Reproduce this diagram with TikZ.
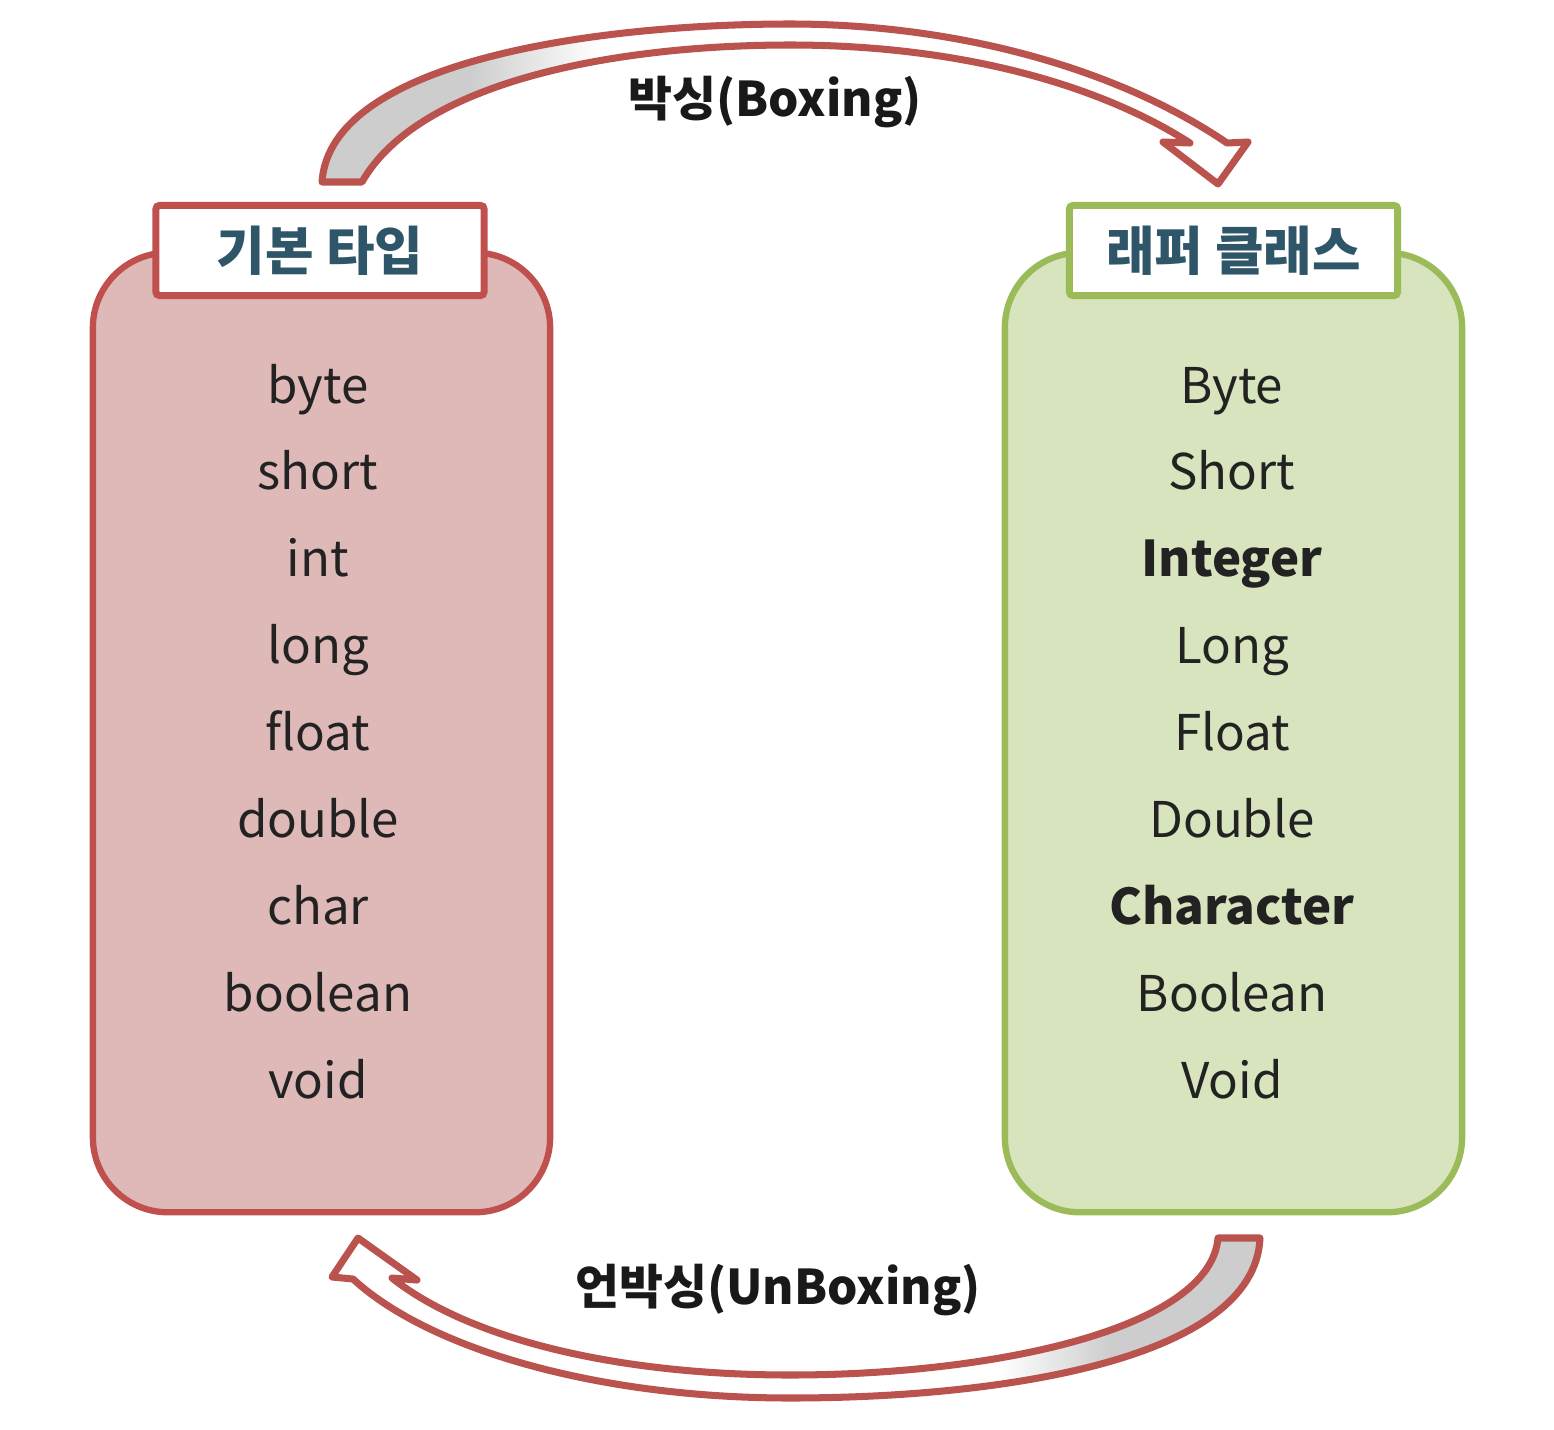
\documentclass[tikz,border=0pt]{standalone}
\usepackage{fontspec}
\setmainfont{Noto Sans CJK KR}
\definecolor{redline}{HTML}{C0504D}
\definecolor{redfill}{HTML}{DFB9B8}
\definecolor{greenline}{HTML}{9BBB59}
\definecolor{greenfill}{HTML}{D7E4BD}
\definecolor{titletext}{HTML}{2E5668}
\definecolor{arrowline}{HTML}{BA534E}
\definecolor{tailgray}{HTML}{CDCDCD}
\definecolor{itemtext}{HTML}{222222}
\tikzset{
  panel/.style={line width=1.8pt, rounded corners=0.75cm, minimum width=4.57cm, minimum height=9.59cm},
  titlebox/.style={fill=white, line width=2pt, rounded corners=1pt, minimum width=3.28cm, minimum height=0.90cm,
    text=titletext, font=\fontsize{15}{18}\selectfont\bfseries, inner sep=0pt},
  item/.style={anchor=base, text=itemtext, font=\fontsize{14}{17}\selectfont, inner sep=0pt},
  bolditem/.style={item, font=\fontsize{14}{17}\selectfont\bfseries},
  arrowlabel/.style={font=\fontsize{13.6}{16}\selectfont\bfseries, text=black!90},
  blockarrow/.style={draw=arrowline, line width=2pt, line join=round}
}
\begin{document}
\begin{tikzpicture}[x=0.01cm,y=-0.01cm]
\useasboundingbox (0,0) rectangle (1554,1430);

% panels
\node[panel, draw=redline, fill=redfill] (prim) at (321.5,732.5) {};
\node[panel, draw=greenline, fill=greenfill] (wrap) at (1233.5,732.5) {};
\node[titlebox, draw=redline] (primtitle) at (320,250.5) {기본 타입};
\node[titlebox, draw=greenline] (wraptitle) at (1233.5,250.5) {래퍼 클래스};

% items
\foreach \t [count=\i from 0] in {byte,short,int,long,float,double,char,boolean,void}
  \node[item] (p\i) at (318,{403+86.9*\i}) {\t};
\node[item] (w0) at (1232,403) {Byte};
\node[item] (w1) at (1232,489.9) {Short};
\node[bolditem] (w2) at (1232,576.8) {Integer};
\node[item] (w3) at (1232,663.7) {Long};
\node[item] (w4) at (1232,750.6) {Float};
\node[item] (w5) at (1232,837.5) {Double};
\node[bolditem] (w6) at (1232,924.4) {Character};
\node[item] (w7) at (1232,1011.3) {Boolean};
\node[item] (w8) at (1232,1098.2) {Void};

% top block arrow (boxing)
\path[save path=\toparrow] (322,182) .. controls (330,60) and (600,24) .. (790,24)
  .. controls (960,24) and (1120,70) .. (1227,143) -- (1248,142) -- (1218,184) -- (1163,142) -- (1190,143)
  .. controls (1100,85) and (960,45) .. (790,45) .. controls (620,45) and (420,80) .. (362,182) -- cycle;
\fill[white, use path=\toparrow];
\begin{scope}
  \clip[use path=\toparrow];
  \fill[tailgray] (280,0) rectangle (470,200);
  \shade[left color=tailgray, right color=white] (469,0) rectangle (600,200);
\end{scope}
\draw[blockarrow, use path=\toparrow];

% bottom block arrow (unboxing)
\path[save path=\botarrow] (353,1279) .. controls (430,1350) and (600,1398) .. (790,1398)
  .. controls (1000,1398) and (1255,1360) .. (1260,1238) -- (1218,1238)
  .. controls (1210,1330) and (990,1375) .. (790,1375) .. controls (620,1375) and (470,1340) .. (392,1278)
  -- (417,1280) -- (358,1238) -- (332,1277) -- cycle;
\fill[white, use path=\botarrow];
\begin{scope}
  \clip[use path=\botarrow];
  \fill[tailgray] (1110,1220) rectangle (1290,1420);
  \shade[left color=white, right color=tailgray] (1000,1220) rectangle (1111,1420);
\end{scope}
\draw[blockarrow, use path=\botarrow];

% labels
\node[arrowlabel] (boxing) at (775,102) {박싱(Boxing)};
\node[arrowlabel] (unboxing) at (778,1290) {언박싱(UnBoxing)};
\end{tikzpicture}
\end{document}
